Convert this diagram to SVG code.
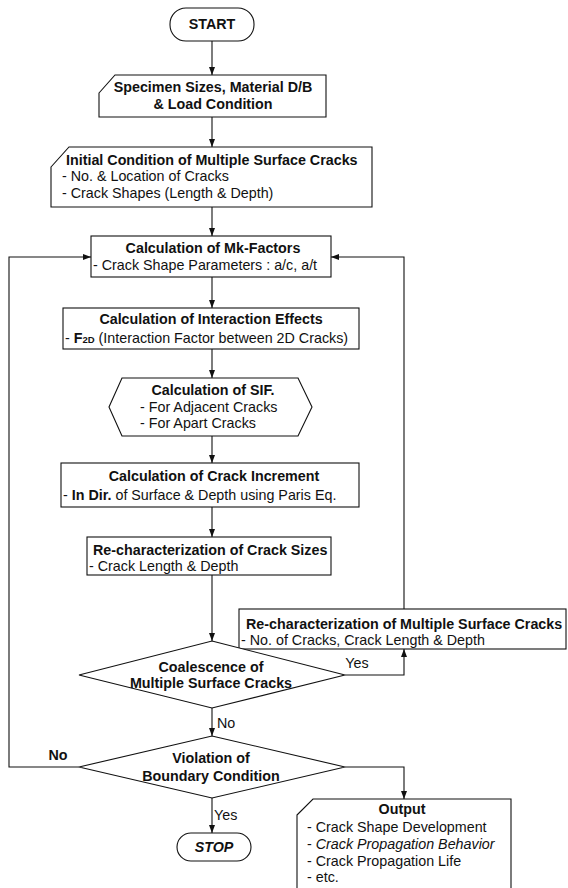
<svg xmlns="http://www.w3.org/2000/svg" width="568" height="888" viewBox="0 0 568 888">
<style>
.s{fill:#fff;stroke:#111;stroke-width:1.1}
.c{fill:none;stroke:#111;stroke-width:1.1}
text{font-family:"Liberation Sans",Arial,sans-serif;font-size:14.3px;fill:#111}
.b{font-weight:bold}
.m{text-anchor:middle}
</style>
<defs>
<marker id="ar" markerWidth="8" markerHeight="6" refX="8" refY="3" orient="auto" markerUnits="userSpaceOnUse">
<path d="M0,0 L8,3 L0,6 z" fill="#111"/>
</marker>
</defs>
<rect width="568" height="888" fill="#fff"/>
<g id="connectors" class="c" marker-end="url(#ar)">
<path d="M212,41 V75"/>
<path d="M212,117 V147"/>
<path d="M212,207 V236"/>
<path d="M212,277 V308"/>
<path d="M212,349 V378"/>
<path d="M212,436 V463"/>
<path d="M212,507 V537"/>
<path d="M212,575 V641"/>
<path d="M212,708 V736"/>
<path d="M345,675 H404 V649"/>
<path d="M404,609 V257 H331"/>
<path d="M79,767 H9 V257 H91"/>
<path d="M345,767 H404 V799"/>
<path d="M212,798 V833"/>
</g>
<g id="labels">
<text x="357" y="668" class="m">Yes</text>
<text x="217" y="728">No</text>
<text x="58" y="760" class="m b">No</text>
<text x="214" y="820">Yes</text>
</g>
<g id="start">
<rect class="s" x="170" y="8" width="84" height="33" rx="16" ry="16"/>
<text x="212" y="29" class="m b">START</text>
</g>
<g id="specimen">
<path class="s" d="M99,93 L115,75 H326 V117 H99 Z"/>
<text x="213" y="92" class="m b">Specimen Sizes, Material D/B</text>
<text x="213" y="109" class="m b">&amp; Load Condition</text>
</g>
<g id="initial">
<path class="s" d="M51,167 L69,147 H372 V207 H51 Z"/>
<text x="66" y="165" class="b">Initial Condition of Multiple Surface Cracks</text>
<text x="62" y="181">- No. &amp; Location of Cracks</text>
<text x="62" y="198">- Crack Shapes (Length &amp; Depth)</text>
</g>
<g id="mk">
<rect class="s" x="91" y="236" width="240" height="41"/>
<text x="213" y="253" class="m b">Calculation of Mk-Factors</text>
<text x="93" y="270">- Crack Shape Parameters : a/c, a/t</text>
</g>
<g id="interaction">
<rect class="s" x="63" y="308" width="296" height="41"/>
<text x="211" y="324" class="m b">Calculation of Interaction Effects</text>
<text x="65" y="343">- <tspan class="b">F</tspan><tspan class="b" font-size="9.5">2D</tspan> (Interaction Factor between 2D Cracks)</text>
</g>
<g id="sif">
<path class="s" d="M109,407 L122,378 H298 L312,407 L298,436 H122 Z"/>
<text x="213" y="395" class="m b">Calculation of SIF.</text>
<text x="140" y="412">- For Adjacent Cracks</text>
<text x="140" y="428">- For Apart Cracks</text>
</g>
<g id="increment">
<rect class="s" x="61" y="463" width="298" height="44"/>
<text x="214" y="481" class="m b">Calculation of Crack Increment</text>
<text x="63" y="500">- <tspan class="b">In Dir.</tspan> of Surface &amp; Depth using Paris Eq.</text>
</g>
<g id="resizes">
<rect class="s" x="87" y="537" width="244" height="38"/>
<text x="93" y="555" class="b">Re-characterization of Crack Sizes</text>
<text x="89" y="571">- Crack Length &amp; Depth</text>
</g>
<g id="remultiple">
<rect class="s" x="239" y="609" width="327" height="40"/>
<text x="246" y="629" class="b">Re-characterization of Multiple Surface Cracks</text>
<text x="241" y="645">- No. of Cracks, Crack Length &amp; Depth</text>
</g>
<g id="coalescence">
<path class="s" d="M212,641 L345,675 L212,708 L79,675 Z"/>
<text x="211" y="672" class="m b">Coalescence of</text>
<text x="211" y="688" class="m b">Multiple Surface Cracks</text>
</g>
<g id="violation">
<path class="s" d="M212,736 L345,767 L212,798 L79,767 Z"/>
<text x="211" y="763" class="m b">Violation of</text>
<text x="211" y="781" class="m b">Boundary Condition</text>
</g>
<g id="stop">
<rect class="s" x="177" y="833" width="74" height="28" rx="14" ry="14"/>
<text x="214" y="852" class="m b" font-style="italic">STOP</text>
</g>
<g id="output">
<path class="s" d="M297,815 L313,799 H511 V892 H297 Z"/>
<text x="402" y="814" class="m b">Output</text>
<text x="307" y="832">- Crack Shape Development</text>
<text x="307" y="849">- <tspan font-style="italic">Crack Propagation Behavior</tspan></text>
<text x="307" y="866">- Crack Propagation Life</text>
<text x="307" y="882">- etc.</text>
</g>
</svg>
